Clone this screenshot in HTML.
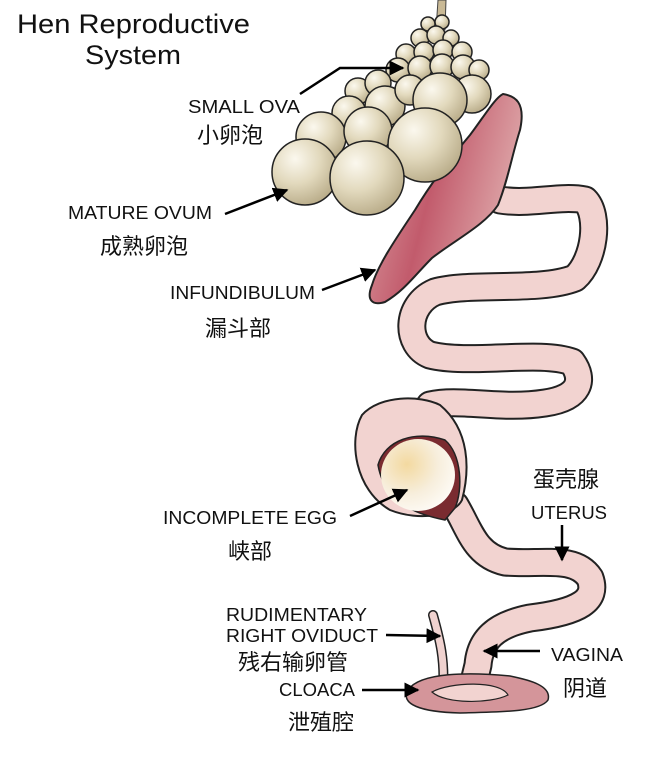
<!DOCTYPE html>
<html><head><meta charset="utf-8"><style>
html,body{margin:0;padding:0;background:#fff;width:649px;height:759px;overflow:hidden}
svg{display:block}
text{font-family:"Liberation Sans","Noto Sans CJK SC",sans-serif;fill:#111}
</style></head><body>
<svg width="649" height="759" viewBox="0 0 649 759" xmlns="http://www.w3.org/2000/svg">
<defs>
<radialGradient id="ova" cx="0.35" cy="0.3" r="0.75">
<stop offset="0" stop-color="#fbf8ee"/><stop offset="0.5" stop-color="#e2d9bd"/><stop offset="1" stop-color="#b8ab88"/>
</radialGradient>
<linearGradient id="inf" x1="0" y1="0" x2="1" y2="0.35">
<stop offset="0" stop-color="#dca3a6"/><stop offset="0.5" stop-color="#c25b6c"/><stop offset="1" stop-color="#dea7a9"/>
</linearGradient>
<radialGradient id="egg" cx="0.35" cy="0.35" r="0.7">
<stop offset="0" stop-color="#f3d9a0"/><stop offset="0.6" stop-color="#f7eedc"/><stop offset="1" stop-color="#fdfaf4"/>
</radialGradient>
<marker id="ah" viewBox="0 0 10 10" refX="9" refY="5" markerWidth="6" markerHeight="6" orient="auto">
<path d="M0,0 L10,5 L0,10 z" fill="#000"/></marker>
</defs>

<text x="17" y="33" font-size="27" textLength="233" lengthAdjust="spacingAndGlyphs">Hen Reproductive</text>
<text x="85" y="64" font-size="27" textLength="96" lengthAdjust="spacingAndGlyphs">System</text>

<path d="M438,0 L446,0 L445,30 L436,30 Z" fill="#c9b995" stroke="#444" stroke-width="1"/>

<g fill="none" stroke-linecap="round" stroke-linejoin="round">
<path d="M500,200 C530,205 560,195 585,200 C600,215 595,260 575,278 C540,292 470,282 435,292 C405,305 405,345 430,355 C470,365 540,350 572,362 C585,380 580,398 545,403 C500,410 460,398 430,405 M455,505 C470,530 475,555 505,562 C540,565 575,555 590,578 C598,600 580,612 530,618 C495,625 480,640 478,665 L472,690" stroke="#222" stroke-width="29"/>
<path d="M500,200 C530,205 560,195 585,200 C600,215 595,260 575,278 C540,292 470,282 435,292 C405,305 405,345 430,355 C470,365 540,350 572,362 C585,380 580,398 545,403 C500,410 460,398 430,405 M455,505 C470,530 475,555 505,562 C540,565 575,555 590,578 C598,600 580,612 530,618 C495,625 480,640 478,665 L472,690" stroke="#f2d3d0" stroke-width="25"/>
<path d="M433,615 C440,640 445,660 443,690" stroke="#222" stroke-width="10"/>
<path d="M433,615 C440,640 445,660 443,690" stroke="#f0d2cf" stroke-width="7"/>
</g>

<path d="M408,690 C420,672 470,672 510,676 C530,680 552,686 548,700 C540,712 500,712 460,713 C420,712 400,704 408,690 Z" fill="#d4959a" stroke="#222" stroke-width="1.5"/>
<path d="M432,692 C450,682 500,680 508,695 C490,704 445,704 432,692 Z" fill="#f2d3d0" stroke="#222" stroke-width="1.2"/>

<path d="M440,405 C420,395 380,395 362,415 C348,440 355,490 390,510 C420,522 455,515 462,500 C470,470 470,430 440,405 Z" fill="#f2d3d0" stroke="#222" stroke-width="2"/>
<path d="M378,465 C385,440 415,430 445,440 C462,455 463,490 455,508 L445,520 C420,515 385,505 378,465 Z" fill="#7a2b30" stroke="#222" stroke-width="1.5"/>
<ellipse cx="418" cy="475" rx="37" ry="36" fill="url(#egg)"/>

<path d="M503,94 C515,96 526,102 520,130 C512,155 508,180 498,205 C485,225 455,240 432,258 C415,275 405,290 385,302 C372,306 366,300 372,285 C378,265 395,240 415,210 C430,185 445,165 470,135 C485,115 495,98 503,94 Z" fill="url(#inf)" stroke="#222" stroke-width="2"/>

<g stroke="#222" stroke-width="1.5" fill="url(#ova)">
<circle cx="428" cy="24" r="7"/><circle cx="442" cy="22" r="7"/>
<circle cx="420" cy="38" r="9"/><circle cx="436" cy="35" r="9"/><circle cx="451" cy="38" r="8"/>
<circle cx="406" cy="54" r="10"/><circle cx="424" cy="52" r="10"/><circle cx="443" cy="50" r="10"/><circle cx="462" cy="52" r="10"/>
<circle cx="398" cy="70" r="12"/><circle cx="420" cy="68" r="12"/><circle cx="442" cy="66" r="12"/><circle cx="463" cy="67" r="12"/><circle cx="479" cy="70" r="10"/>
<circle cx="358" cy="91" r="13"/><circle cx="378" cy="83" r="13"/>
<circle cx="349" cy="113" r="17"/><circle cx="385" cy="106" r="20"/><circle cx="410" cy="90" r="15"/>
<circle cx="472" cy="94" r="19"/><circle cx="440" cy="100" r="27"/>
<circle cx="321" cy="137" r="25"/><circle cx="368" cy="131" r="24"/>
<circle cx="425" cy="145" r="37"/>
<circle cx="305" cy="172" r="33"/><circle cx="367" cy="178" r="37"/>
</g>

<g font-size="18.5" lengthAdjust="spacingAndGlyphs">
<text x="188" y="113" textLength="112" lengthAdjust="spacingAndGlyphs">SMALL OVA</text>
<text x="68" y="219" textLength="144" lengthAdjust="spacingAndGlyphs">MATURE OVUM</text>
<text x="170" y="299" textLength="145" lengthAdjust="spacingAndGlyphs">INFUNDIBULUM</text>
<text x="163" y="524" textLength="174" lengthAdjust="spacingAndGlyphs">INCOMPLETE EGG</text>
<text x="531" y="519" textLength="76" lengthAdjust="spacingAndGlyphs">UTERUS</text>
<text x="226" y="621" textLength="141" lengthAdjust="spacingAndGlyphs">RUDIMENTARY</text>
<text x="226" y="642" textLength="152" lengthAdjust="spacingAndGlyphs">RIGHT OVIDUCT</text>
<text x="279" y="696" textLength="76" lengthAdjust="spacingAndGlyphs">CLOACA</text>
<text x="551" y="661" textLength="72" lengthAdjust="spacingAndGlyphs">VAGINA</text>
</g>
<g font-size="22">
<text x="197" y="143">小卵泡</text>
<text x="100" y="254">成熟卵泡</text>
<text x="205" y="336">漏斗部</text>
<text x="228" y="559">峡部</text>
<text x="533" y="487">蛋壳腺</text>
<text x="238" y="670">残右输卵管</text>
<text x="288" y="730">泄殖腔</text>
<text x="563" y="696">阴道</text>
</g>

<g stroke="#000" stroke-width="2.5" fill="none" marker-end="url(#ah)">
<path d="M300,94 L340,68 L403,68"/>
<path d="M225,214 L287,190"/>
<path d="M322,290 L375,270"/>
<path d="M350,516 L407,490"/>
<path d="M562,525 L562,560"/>
<path d="M386,635 L440,636"/>
<path d="M362,690 L418,690"/>
<path d="M540,651 L484,651"/>
</g>
</svg>
</body></html>
